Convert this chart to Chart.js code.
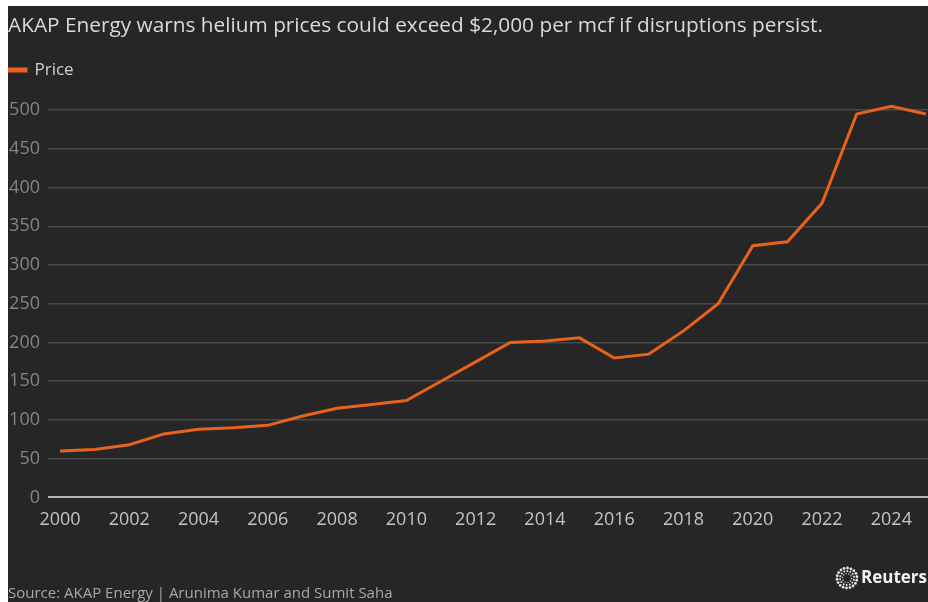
<!DOCTYPE html>
<html>
<head>
<meta charset="utf-8">
<script src="https://cdn.jsdelivr.net/npm/chart.js@4.4.1/dist/chart.umd.min.js"></script>
<style>
  html, body { margin: 0; background: #fff; }
  #wrap { position: absolute; left: 8px; top: 6px; width: 920px; height: 596px; background: #262626; }
</style>
</head>
<body>
<div id="wrap"><canvas id="helium" width="920" height="596"></canvas></div>
<script>
const years = [2000, 2001, 2002, 2003, 2004, 2005, 2006, 2007, 2008, 2009, 2010, 2011, 2012,
  2013, 2014, 2015, 2016, 2017, 2018, 2019, 2020, 2021, 2022, 2023, 2024, 2025];
const prices = [60, 62, 68, 82, 88, 90, 93, 105, 115, 120, 125, 150, 175,
  200, 202, 206, 180, 185, 215, 250, 325, 330, 380, 495, 505, 495];
const yTicks = [0, 50, 100, 150, 200, 250, 300, 350, 400, 450, 500];
const xTicks = [2000, 2002, 2004, 2006, 2008, 2010, 2012, 2014, 2016, 2018, 2020, 2022, 2024];

const titleText = 'AKAP Energy warns helium prices could exceed $2,000 per mcf if disruptions persist.';
const sourceText = 'Source: AKAP Energy | Arunima Kumar and Sumit Saha';

const FONT = '"Open Sans", "Noto Sans", sans-serif';

// footer: source line + Reuters mark
const footer = {
  id: 'footer',
  afterDraw(chart) {
    const ctx = chart.ctx;
    ctx.save();
    ctx.textBaseline = 'middle';
    ctx.fillStyle = '#a8a8a8';
    ctx.font = '15px ' + FONT;
    ctx.fillText(sourceText, 0, 588);

    // dotted ring
    const cx = 839, cy = 572;
    ctx.fillStyle = '#e6e6e6';
    const rings = [[10, 18, 1.4], [7, 14, 1.0], [4.5, 10, 0.7]];
    rings.forEach(([r, n, s]) => {
      for (let i = 0; i < n; i++) {
        const a = (i / n) * Math.PI * 2 + r;
        ctx.beginPath();
        ctx.arc(cx + Math.cos(a) * r, cy + Math.sin(a) * r, s, 0, Math.PI * 2);
        ctx.fill();
      }
    });
    ctx.fillStyle = '#f2f2f2';
    ctx.font = 'bold 17px ' + FONT;
    ctx.fillText('Reuters', 853, 572);
    ctx.restore();
  }
};

new Chart(document.getElementById('helium'), {
  type: 'line',
  data: {
    datasets: [{
      label: 'Price',
      data: years.map((y, i) => ({ x: y, y: prices[i] })),
      borderColor: '#e8621c',
      backgroundColor: '#e8621c',
      borderWidth: 3,
      pointRadius: 0,
      tension: 0,
      clip: false
    }]
  },
  options: {
    responsive: false,
    animation: false,
    devicePixelRatio: 1,
    layout: { padding: { left: 0, right: 0, top: 0, bottom: 67 } },
    plugins: {
      title: {
        display: true,
        text: titleText,
        align: 'start',
        color: '#dadada',
        font: { family: FONT, size: 20.8, weight: 'normal' },
        padding: { top: 8, bottom: 22.5 }
      },
      legend: {
        align: 'start',
        labels: {
          color: '#d0d0d0',
          font: { family: FONT, size: 17 },
          boxWidth: 18,
          boxHeight: 2,
          padding: 0
        }
      },
      tooltip: { enabled: false }
    },
    scales: {
      x: {
        type: 'linear',
        min: 1999.654,
        max: 2025.058,
        afterBuildTicks: (s) => { s.ticks = xTicks.map(v => ({ value: v })); },
        grid: { display: false },
        border: { display: false },
        ticks: {
          color: '#c4c4c4',
          font: { family: FONT, size: 18 },
          padding: 4,
          maxRotation: 0,
          callback: (v) => String(v)
        }
      },
      y: {
        min: 0,
        max: 528,
        afterBuildTicks: (s) => { s.ticks = yTicks.map(v => ({ value: v })); },
        afterFit: (s) => { s.width = 40; },
        border: { display: false },
        grid: {
          drawTicks: false,
          color: (c) => c.tick && c.tick.value === 0 ? '#b4b4b4' : '#484848',
          lineWidth: (c) => c.tick && c.tick.value === 0 ? 2 : 1.5
        },
        ticks: {
          color: '#858585',
          font: { family: FONT, size: 18 },
          padding: 8
        }
      }
    }
  },
  plugins: [footer]
});
</script>
</body>
</html>
